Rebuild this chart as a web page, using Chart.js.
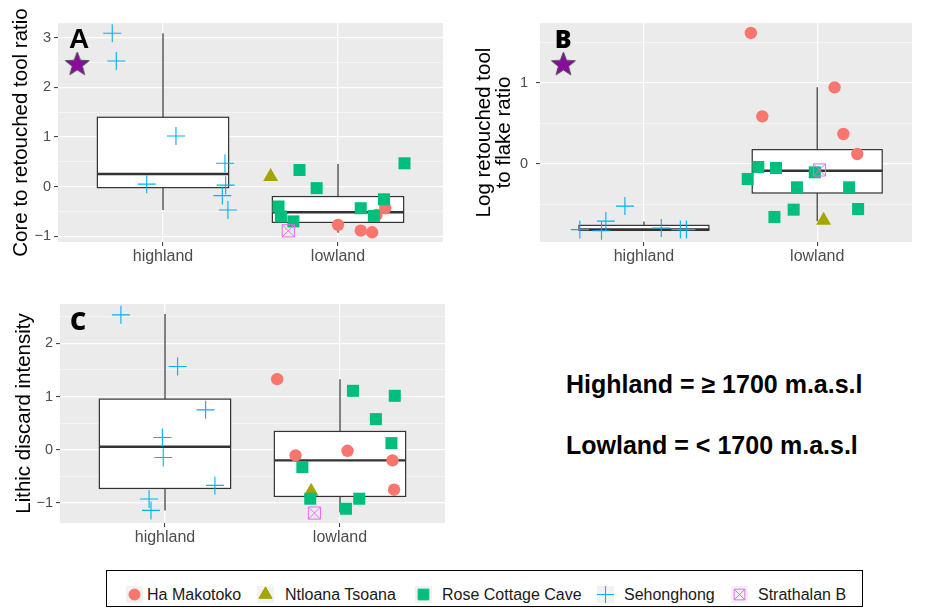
<!DOCTYPE html>
<html>
<head>
<meta charset="utf-8">
<script src="https://cdn.jsdelivr.net/npm/chart.js@4.4.1/dist/chart.umd.min.js"></script>
<style>
  html, body { margin: 0; padding: 0; background: #fff; overflow: hidden; }
  #page { position: relative; width: 925px; height: 609px; font-family: "Liberation Sans", Arial, sans-serif; }
  canvas.panel { position: absolute; }
  .note { position: absolute; left: 566px; font: bold 25px/25px "Liberation Sans", Arial, sans-serif; color: #000; white-space: nowrap; }
  #legend { position: absolute; left: 106px; top: 570px; width: 757px; height: 37px; border: 1.5px solid #000; box-sizing: border-box; background: #fff; }
  .key { position: absolute; top: 15px; width: 17px; height: 17px; }
  .lab { position: absolute; top: 14px; font: 16px/19px "Liberation Sans", Arial, sans-serif; color: #1a1a1a; white-space: nowrap; }
</style>
</head>
<body>
<div id="page">
  <canvas id="chartA" class="panel" width="460" height="270" style="left:0;top:0"></canvas>
  <canvas id="chartB" class="panel" width="465" height="270" style="left:460px;top:0"></canvas>
  <canvas id="chartC" class="panel" width="460" height="270" style="left:0;top:280px"></canvas>
  <div class="note" style="top:372px">Highland = ≥ 1700 m.a.s.l</div>
  <div class="note" style="top:433px">Lowland = &lt; 1700 m.a.s.l</div>
  <div id="legend"></div>
</div>
<script>
// ---- groups and sites ----
const categories = ['highland', 'lowland'];
const siteNames  = ['Ha Makotoko', 'Ntloana Tsoana', 'Rose Cottage Cave', 'Sehonghong', 'Strathalan B'];
const siteColors = ['#F8766D', '#A3A500', '#00BF7D', '#00B0F6', '#E76BF3'];

// ---- A: core to retouched tool ratio  ([jittered group position, value]) ----
const coreHaMakotoko   = [[2.00, -0.77], [2.13, -0.885], [2.195, -0.92], [2.27, -0.435], [2.22, -0.57]];
const coreNtloana      = [[1.615, 0.20]];
const coreRoseCottage  = [[1.78, 0.335], [1.878, -0.03], [1.66, -0.40], [1.674, -0.60], [1.745, -0.70],
                          [2.13, -0.435], [2.205, -0.59], [2.263, -0.255], [2.38, 0.47]];
const coreSehonghong   = [[0.71, 3.09], [0.733, 2.53], [1.074, 1.02], [0.907, 0.05], [1.354, 0.47],
                          [1.358, 0.03], [1.339, -0.18], [1.371, -0.47]];
const coreStrathalan   = [[1.716, -0.89]];
// [lower whisker, Q1, median, Q3, upper whisker] per group
const coreBoxes        = [[-0.47, -0.02, 0.256, 1.397, 3.09], [-0.93, -0.72, -0.515, -0.20, 0.456]];
const coreStar         = [[0.51, 2.48]];
const coreTicks        = [-1, -0.5, 0, 0.5, 1, 1.5, 2, 2.5, 3];

// ---- B: log retouched tool to flake ratio ----
const flakeHaMakotoko  = [[1.617, 1.617], [1.683, 0.588], [2.10, 0.946], [2.151, 0.37], [2.231, 0.123]];
const flakeNtloana     = [[2.037, -0.696]];
const flakeRoseCottage = [[1.66, -0.037], [1.762, -0.05], [1.599, -0.185], [1.883, -0.288], [2.184, -0.288],
                          [1.864, -0.564], [1.753, -0.654], [2.236, -0.556], [1.986, -0.103]];
const flakeSehonghong  = [[0.63, -0.81], [0.78, -0.705], [0.755, -0.825], [0.89, -0.52], [1.10, -0.79],
                          [1.21, -0.81], [1.245, -0.81]];
const flakeStrathalan  = [[2.013, -0.074]];
const flakeBoxes       = [[-0.82, -0.82, -0.807, -0.758, -0.709], [-0.708, -0.358, -0.083, 0.177, 0.946]];
const flakeStar        = [[0.535, 1.238]];
const flakeTicks       = [-0.5, 0, 0.5, 1, 1.5];

// ---- C: lithic discard intensity ----
const discardHaMakotoko  = [[1.641, 1.326], [1.746, -0.106], [2.043, -0.019], [2.30, -0.20], [2.309, -0.75]];
const discardNtloana     = [[1.835, -0.782]];
const discardRoseCottage = [[2.074, 1.107], [2.313, 1.013], [2.205, 0.576], [2.294, 0.125], [1.785, -0.325],
                            [1.83, -0.919], [2.11, -0.919], [2.034, -1.107]];
const discardSehonghong  = [[0.748, 2.533], [1.072, 1.563], [1.232, 0.75], [0.985, 0.231], [0.99, -0.144],
                            [1.285, -0.669], [0.909, -0.925], [0.92, -1.138]];
const discardStrathalan  = [[1.854, -1.188]];
const discardBoxes       = [[-1.139, -0.726, 0.056, 0.951, 2.55], [-1.176, -0.876, -0.20, 0.344, 1.326]];
const discardTicks       = [-1, -0.5, 0, 0.5, 1, 1.5, 2, 2.5];

// ---- marker styles per site ----
const siteStyles = [
  { pointStyle: 'circle',   radius: 6.2, fill: true },
  { pointStyle: 'triangle', radius: 8.6, fill: true },
  { pointStyle: 'rect',     radius: 8.5, fill: true },
  { pointStyle: 'cross',    radius: 9,   fill: false, lineWidth: 1.1 },
  { pointStyle: 'rect',     radius: 8.6, fill: false, lineWidth: 1, overlay: 'crossRot' }
];

// purple star marker
function makeStar(outer, inner) {
  const size = Math.ceil(outer * 2 + 4);
  const c = document.createElement('canvas');
  c.width = size; c.height = size;
  const g = c.getContext('2d');
  const cx = size / 2, cy = size / 2 + 1;
  g.beginPath();
  for (let i = 0; i < 10; i++) {
    const r = i % 2 === 0 ? outer : inner;
    const a = -Math.PI / 2 + i * Math.PI / 5;
    const px = cx + r * Math.cos(a), py = cy + r * Math.sin(a);
    i === 0 ? g.moveTo(px, py) : g.lineTo(px, py);
  }
  g.closePath();
  g.fillStyle = '#8B0B9C';
  g.fill();
  g.strokeStyle = '#4a4a4a';
  g.lineWidth = 1;
  g.stroke();
  return c;
}
const starImage = makeStar(12.5, 5.3);

function toXY(arr) { return arr.map(([x, y]) => ({ x, y })); }

function siteDatasets(seriesList) {
  const out = [];
  seriesList.forEach((series, i) => {
    const st = siteStyles[i];
    const col = siteColors[i];
    const base = {
      label: siteNames[i],
      data: toXY(series),
      pointStyle: st.pointStyle,
      pointRadius: st.radius,
      pointHoverRadius: st.radius,
      backgroundColor: st.fill ? col : 'rgba(0,0,0,0)',
      borderColor: col,
      borderWidth: st.fill ? 0 : st.lineWidth,
      order: 5 - i
    };
    out.push(base);
    if (st.overlay) {
      out.push(Object.assign({}, base, { label: siteNames[i] + ' ', pointStyle: st.overlay, order: 5 - i }));
    }
  });
  return out;
}

// panel background, boxplots and corner tag
const panelDecor = {
  id: 'panelDecor',
  beforeDraw(chart) {
    const { ctx, chartArea: a } = chart;
    ctx.save();
    ctx.fillStyle = '#EBEBEB';
    ctx.fillRect(a.left, a.top, a.right - a.left, a.bottom - a.top);
    ctx.restore();
  },
  beforeDatasetsDraw(chart, args, opts) {
    const { ctx, chartArea: a, scales: { x, y } } = chart;
    ctx.save();
    ctx.beginPath();
    ctx.rect(a.left, a.top, a.right - a.left, a.bottom - a.top);
    ctx.clip();
    opts.boxes.forEach((b, i) => {
      const cx = x.getPixelForValue(i + 1);
      const hw = x.getPixelForValue(i + 1 + 0.375) - cx;
      const [lo, q1, med, q3, hi] = b.map(v => y.getPixelForValue(v));
      ctx.strokeStyle = '#333333';
      ctx.lineWidth = 1.2;
      ctx.beginPath();
      ctx.moveTo(cx, hi); ctx.lineTo(cx, q3);
      ctx.moveTo(cx, q1); ctx.lineTo(cx, lo);
      ctx.stroke();
      ctx.fillStyle = '#FFFFFF';
      ctx.fillRect(cx - hw, q3, 2 * hw, q1 - q3);
      ctx.strokeRect(cx - hw, q3, 2 * hw, q1 - q3);
      ctx.lineWidth = 2.4;
      ctx.beginPath();
      ctx.moveTo(cx - hw, med); ctx.lineTo(cx + hw, med);
      ctx.stroke();
    });
    ctx.restore();
  },
  afterDatasetsDraw(chart, args, opts) {
    const { ctx, scales: { x, y } } = chart;
    ctx.save();
    ctx.font = opts.tagFont;
    ctx.fillStyle = '#000';
    ctx.textAlign = 'center';
    ctx.textBaseline = 'alphabetic';
    ctx.fillText(opts.tag, x.getPixelForValue(opts.tagAt[0]), y.getPixelForValue(opts.tagAt[1]));
    ctx.restore();
  }
};

function fmt(v) { return v < 0 ? '\u2212' + Math.abs(v) : String(v); }
const isMajor = v => Math.abs(v - Math.round(v)) < 1e-9;

function makePanel(cfg) {
  const datasets = siteDatasets(cfg.series);
  if (cfg.star) {
    datasets.push({ label: 'star', data: toXY(cfg.star), pointStyle: starImage, pointRadius: 12, order: 0 });
  }
  return new Chart(document.getElementById(cfg.canvas), {
    type: 'scatter',
    data: { datasets },
    options: {
      responsive: false,
      animation: false,
      devicePixelRatio: 1,
      layout: { padding: cfg.padding },
      events: [],
      plugins: {
        legend: { display: false },
        tooltip: { enabled: false },
        panelDecor: { boxes: cfg.boxes, tag: cfg.tag, tagAt: cfg.tagAt, tagFont: cfg.tagFont }
      },
      scales: {
        x: {
          type: 'linear',
          min: 0.4,
          max: cfg.xMax,
          afterBuildTicks: s => { s.ticks = categories.map((c, i) => ({ value: i + 1 })); },
          afterFit: s => { s.height = cfg.xHeight; },
          ticks: {
            callback: v => categories[Math.round(v) - 1],
            font: { family: '"Liberation Sans", Arial, sans-serif', size: 16 },
            color: '#4D4D4D',
            padding: 1,
            maxRotation: 0,
            autoSkip: false
          },
          grid: { color: '#FFFFFF', lineWidth: 1.2, tickColor: '#333333', tickLength: 4, tickWidth: 1 },
          border: { display: false }
        },
        y: {
          type: 'linear',
          min: cfg.yMin,
          max: cfg.yMax,
          afterBuildTicks: s => { s.ticks = cfg.yTicks.map(v => ({ value: v })); },
          afterFit: s => { s.width = cfg.yWidth; },
          ticks: {
            callback: v => isMajor(v) ? fmt(Math.round(v)) : '',
            font: { family: '"Liberation Sans", Arial, sans-serif', size: 14.5 },
            color: '#4D4D4D',
            padding: cfg.tickPad,
            autoSkip: false
          },
          grid: {
            color: c => isMajor(c.tick.value) ? '#FFFFFF' : 'rgba(255,255,255,0.85)',
            lineWidth: c => isMajor(c.tick.value) ? 1.2 : 0.6,
            tickColor: c => isMajor(c.tick.value) ? '#333333' : 'rgba(0,0,0,0)',
            tickLength: 4,
            tickWidth: 1
          },
          border: { display: false },
          title: {
            display: true,
            text: cfg.title,
            color: '#000',
            font: { family: '"Liberation Sans", Arial, sans-serif', size: 20.5, lineHeight: cfg.titleLH },
            padding: { top: cfg.titlePad, bottom: 0 }
          }
        }
      }
    },
    plugins: [panelDecor]
  });
}

makePanel({
  canvas: 'chartA', title: 'Core to retouched tool ratio', titleLH: 1.2, titlePad: 9, tickPad: 3,
  series: [coreHaMakotoko, coreNtloana, coreRoseCottage, coreSehonghong, coreStrathalan],
  boxes: coreBoxes, star: coreStar, yTicks: coreTicks,
  yMin: -1.115, yMax: 3.296, xMax: 2.6,
  padding: { top: 23, right: 17, left: 0, bottom: 0 }, yWidth: 58, xHeight: 28,
  tag: 'A', tagAt: [0.52, 2.79], tagFont: 'bold 28px "Liberation Sans Narrow", "Liberation Sans", sans-serif'
});

makePanel({
  canvas: 'chartB', title: ['Log retouched tool', 'to flake ratio'], titleLH: 1.0, titlePad: 14, tickPad: 8,
  series: [flakeHaMakotoko, flakeNtloana, flakeRoseCottage, flakeSehonghong, flakeStrathalan],
  boxes: flakeBoxes, star: flakeStar, yTicks: flakeTicks,
  yMin: -0.963, yMax: 1.74, xMax: 2.547,
  padding: { top: 23, right: 0, left: 0, bottom: 0 }, yWidth: 80, xHeight: 28,
  tag: 'B', tagAt: [0.534, 1.43], tagFont: '800 25px "Open Sans", "Liberation Sans", sans-serif'
});

makePanel({
  canvas: 'chartC', title: 'Lithic discard intensity', titleLH: 1.2, titlePad: 12.5, tickPad: 3,
  series: [discardHaMakotoko, discardNtloana, discardRoseCottage, discardSehonghong, discardStrathalan],
  boxes: discardBoxes, star: null, yTicks: discardTicks,
  yMin: -1.375, yMax: 2.737, xMax: 2.6,
  padding: { top: 24, right: 15, left: 0, bottom: 0 }, yWidth: 60, xHeight: 27,
  tag: 'C', tagAt: [0.504, 2.25], tagFont: '800 25px "Open Sans", "Liberation Sans", sans-serif'
});

// ---- legend ----
const legendKeyLeft  = [19, 150, 308, 490, 624];
const legendTextLeft = [40, 178, 335, 517, 651];
const legend = document.getElementById('legend');
siteNames.forEach((name, i) => {
  const key = document.createElement('canvas');
  key.className = 'key';
  key.width = 17; key.height = 17;
  key.style.left = legendKeyLeft[i] + 'px';
  legend.appendChild(key);
  const g = key.getContext('2d');
  g.fillStyle = '#F2F2F2';
  g.fillRect(0, 0, 17, 17);
  const st = siteStyles[i];
  g.fillStyle = siteColors[i];
  g.strokeStyle = siteColors[i];
  g.lineWidth = st.fill ? 0 : st.lineWidth;
  const r = st.pointStyle === 'circle' ? 5.5 : (st.pointStyle === 'cross' ? 8.5 : 7.6);
  const draw = (style) => Chart.helpers.drawPoint(g, { pointStyle: style, radius: r, rotation: 0, borderWidth: g.lineWidth }, 8.5, 8.5);
  if (!st.fill) g.fillStyle = 'rgba(0,0,0,0)';
  draw(st.pointStyle);
  if (st.overlay) draw(st.overlay);
  const lab = document.createElement('div');
  lab.className = 'lab';
  lab.style.left = legendTextLeft[i] + 'px';
  lab.textContent = name;
  legend.appendChild(lab);
});
</script>
</body>
</html>
